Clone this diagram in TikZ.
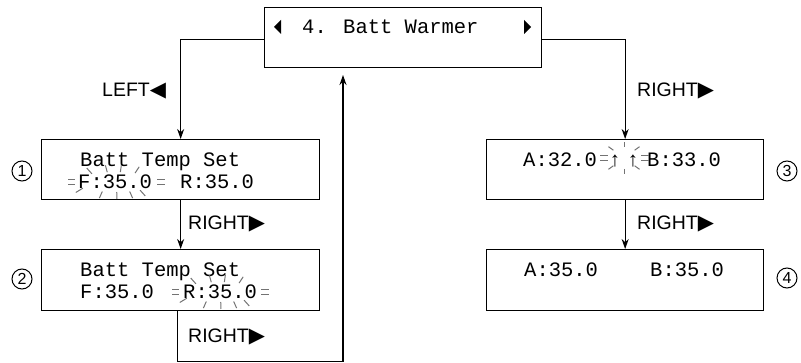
\documentclass[tikz,border=0pt]{standalone}
\usepackage{fontspec}
\setmainfont{Liberation Sans}
\newfontfamily\lcdfont{Liberation Mono}
\newfontfamily\symfont{DejaVu Sans}
\usetikzlibrary{arrows.meta,calc}
\newcommand\tri[1]{{\symfont\fontsize{21}{21}\selectfont #1}}
\newcommand\flashrays[6]{% center, angles, a1, b1, a2, b2
  \foreach \t in {#2}
    \draw[ray] ([shift={(\t:#3 and #4)}]#1) -- ([shift={(\t:#5 and #6)}]#1);}
\newcommand\eqmark[3]{% center, x offset start, length
  \draw[ray] ([shift={(#2,-2.5)}]#1) -- ++(#3,0);
  \draw[ray] ([shift={(#2,2.5)}]#1) -- ++(#3,0);}
\begin{document}
\begin{tikzpicture}[x=1pt,y=-1pt,
  screen/.style={draw, line width=1.3pt, minimum width=277pt, minimum height=60pt, inner sep=0pt, anchor=north west},
  lcd/.style={font=\lcdfont\fontsize{20.5}{20.5}\selectfont, anchor=base west, inner sep=0pt},
  lbl/.style={font=\fontsize{19.5}{19.5}\selectfont, anchor=base west, inner sep=0pt},
  num/.style={circle, draw, line width=1pt, minimum size=20pt, inner sep=0pt, font=\fontsize{16}{16}\selectfont},
  flow/.style={line width=1.3pt, -{Stealth[length=10pt,width=7pt]}},
  ray/.style={black!55, line width=1pt}]
\useasboundingbox (0,0) rectangle (801,363);

% screens
\node[screen] (top) at (264,7) {};
\node[screen, minimum width=278pt] (s1) at (41,139) {};
\node[screen, minimum width=278pt, minimum height=61pt] (s2) at (41,249) {};
\node[screen] (s3) at (486,139) {};
\node[screen, minimum height=61pt] (s4) at (486,249) {};

% top screen text
\fill (281,20) -- (274,27) -- (281,34) -- cycle;
\fill (524,20) -- (531,27) -- (524,34) -- cycle;
\node[lcd] (t0) at (302,34) {4. Batt Warmer};

% screen 1
\node[lcd] (t1a) at (80,167) {Batt Temp Set};
\node[lcd] (t1b) at (78,189) {F:35.0};
\node[lcd] (t1c) at (180,189) {R:35.0};
\coordinate (f1) at (116,182);
\flashrays{f1}{55,71,89,109,142,235,258,276,297}{42}{10}{51}{17}
\eqmark{f1}{-48}{7}
\eqmark{f1}{41}{8}

% screen 2
\node[lcd] (t2a) at (80,277) {Batt Temp Set};
\node[lcd] (t2b) at (80,299) {F:35.0};
\node[lcd] (t2c) at (183,299) {R:35.0};
\coordinate (f2) at (220,292);
\flashrays{f2}{55,71,89,109,142,235,258,276,297}{42}{10}{51}{17}
\eqmark{f2}{-48}{7}
\eqmark{f2}{41}{8}

% screen 3
\node[lcd] (t3a) at (523,167) {A:32.0};
\node[lcd, anchor=base] (t3b) at (615,167) {↑};
\node[lcd, anchor=base] (t3c) at (633,167) {↑};
\node[lcd] (t3d) at (647,167) {B:33.0};
\coordinate (f3) at (624,158);
\flashrays{f3}{45,90,135,225,270,315}{15}{11}{22}{16}
\eqmark{f3}{-24}{8}
\eqmark{f3}{17}{8}

% screen 4
\node[lcd] (t4a) at (524,277) {A:35.0};
\node[lcd] (t4b) at (650,277) {B:35.0};

% step numbers
\node[num] (n1) at (22,171) {1};
\node[num] (n2) at (22,279) {2};
\node[num] (n3) at (787,171) {3};
\node[num] (n4) at (787,278) {4};

% connectors
\draw[flow] ([yshift=-2pt]top.west) -| (s1.north);
\draw[flow] ([yshift=-2pt]top.east) -| (s3.north);
\draw[flow] (s1.south) -- (s2.north);
\draw[flow] (s3.south) -- (s4.north);
\coordinate (rb) at (343,361.5);
\coordinate (ret) at (343,75);
\draw[flow] ([xshift=-3pt]s2.south) |- (rb) -- (ret);

% labels
\node[lbl] (l1) at (102,97) {LEFT\tri{◀}};
\node[lbl] (l2) at (188,230) {RIGHT\tri{▶}};
\node[lbl] (l3) at (188,343) {RIGHT\tri{▶}};
\node[lbl] (l4) at (637,97) {RIGHT\tri{▶}};
\node[lbl] (l5) at (637,230) {RIGHT\tri{▶}};
\end{tikzpicture}
\end{document}
